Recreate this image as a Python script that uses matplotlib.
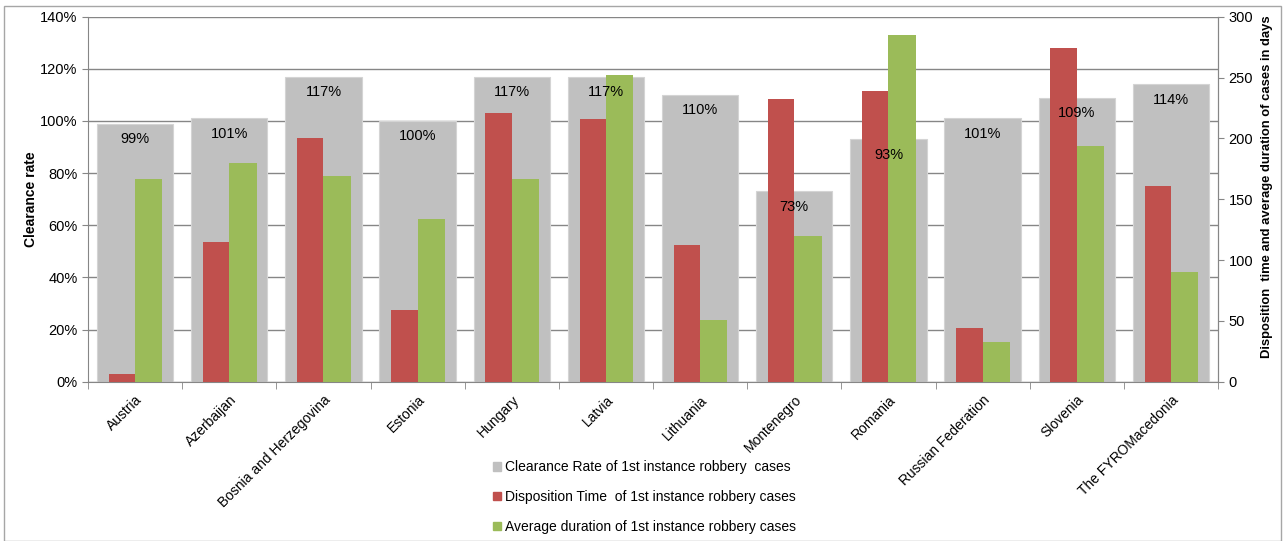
import numpy as np
import matplotlib
matplotlib.use("Agg")
import matplotlib.pyplot as plt
from matplotlib.patches import Patch, Rectangle

plt.rcParams["font.family"] = ["Liberation Sans", "DejaVu Sans"]

# ---------------- Dados ----------------
countries = [
    "Austria", "Azerbaijan", "Bosnia and Herzegovina", "Estonia", "Hungary",
    "Latvia", "Lithuania", "Montenegro", "Romania", "Russian Federation",
    "Slovenia", "The FYROMacedonia",
]
clearance_rate = [99, 101, 117, 100, 117, 117, 110, 73, 93, 101, 109, 114]
disposition_time = [6, 115, 200, 59, 221, 216, 112, 232, 239, 44, 274, 161]
avg_duration = [167, 180, 169, 134, 167, 252, 51, 120, 285, 33, 194, 90]

lbl_clear = "Clearance Rate of 1st instance robbery  cases"
lbl_disp = "Disposition Time  of 1st instance robbery cases"
lbl_avg = "Average duration of 1st instance robbery cases"

GRAY, RED, GREEN = "#C0C0C0", "#C0504D", "#9BBB59"
AXC = "#868686"

# ---------------- Figura ----------------
fig = plt.figure(figsize=(12.85, 5.41), dpi=100)
ax = fig.add_axes([0.0685, 0.2945, 0.8794, 0.6746])
ax2 = ax.twinx()

x = np.arange(len(countries))

# eixo esquerdo: taxa de resolução (barras largas cinza, ao fundo)
ax.bar(x, clearance_rate, width=0.81, color=GRAY, edgecolor="#D4D4D4",
       linewidth=0.8, zorder=2)
ax.set_ylim(0, 140)
ax.set_xlim(-0.5, len(countries) - 0.5)
ax.set_yticks(np.arange(0, 141, 20))
ax.set_yticklabels([f"{v}%" for v in range(0, 141, 20)], fontsize=10.5)
ax.yaxis.grid(True, color=AXC, linewidth=1.0, zorder=0)
ax.set_axisbelow(True)
ax.set_ylabel("Clearance rate", fontsize=10, fontweight="bold")
ax.yaxis.set_label_coords(-0.044, 0.5)
ax.tick_params(axis="y", color=AXC, length=4)

# eixo direito: dias (barras estreitas por cima)
ax2.bar(x - 0.14, disposition_time, width=0.28, color=RED, zorder=3)
ax2.bar(x + 0.145, avg_duration, width=0.29, color=GREEN, zorder=3)
ax2.set_ylim(0, 300)
ax2.set_yticks(np.arange(0, 301, 50))
ax2.tick_params(axis="y", labelsize=10.5, color=AXC, length=4)
ax2.set_ylabel("Disposition  time and average duration of cases in days",
               fontsize=9.4, fontweight="bold")
ax2.yaxis.set_label_coords(1.038, 0.533)

# rótulos de percentagem por cima de tudo
for xi, v in zip(x, clearance_rate):
    ax2.text(xi, v - 5.9, f"{v}%", transform=ax.transData, ha="center",
             va="center", fontsize=10.5, zorder=6)

# eixo x: rótulos rodados, marcas entre categorias
ax.set_xticks(x)
ax.set_xticklabels(countries, rotation=45, ha="right", rotation_mode="anchor",
                   fontsize=10)
ax.tick_params(axis="x", length=0, pad=8)
ax.set_xticks(np.arange(-0.5, len(countries), 1), minor=True)
ax.tick_params(axis="x", which="minor", length=5, color=AXC)

for a in (ax, ax2):
    for s in a.spines.values():
        s.set_color(AXC)
    a.spines["top"].set_visible(False)
ax2.spines["left"].set_visible(False)
ax2.spines["bottom"].set_visible(False)

# legenda
handles = [Patch(color=GRAY), Patch(color=RED), Patch(color=GREEN)]
fig.legend(handles, [lbl_clear, lbl_disp, lbl_avg], loc="upper left",
           bbox_to_anchor=(0.379, 0.160), frameon=False, fontsize=10,
           handlelength=0.6, handleheight=0.6, handletextpad=0.3,
           labelspacing=1.15, borderaxespad=0)

# moldura
fig.patches.append(Rectangle((4 / 1285, 0), 1 - 8 / 1285, 1 - 6 / 541,
                             transform=fig.transFigure, fill=False,
                             edgecolor="#A6A6A6", linewidth=1.0))

fig.savefig("out.png", dpi=100)
